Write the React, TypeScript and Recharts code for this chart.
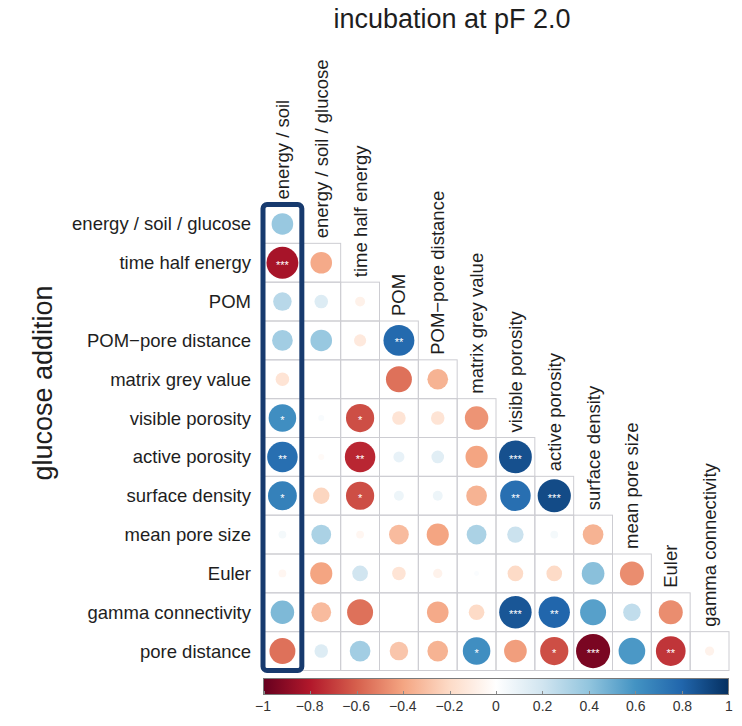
import React from 'react'
import { ScatterChart, Scatter, XAxis, YAxis } from 'recharts'

// variable names (rows go down the left, columns across the top)
const rowLabels = [
  'energy / soil / glucose',
  'time half energy',
  'POM',
  'POM\u2212pore distance',
  'matrix grey value',
  'visible porosity',
  'active porosity',
  'surface density',
  'mean pore size',
  'Euler',
  'gamma connectivity',
  'pore distance',
]

const colLabels = [
  'energy / soil',
  'energy / soil / glucose',
  'time half energy',
  'POM',
  'POM\u2212pore distance',
  'matrix grey value',
  'visible porosity',
  'active porosity',
  'surface density',
  'mean pore size',
  'Euler',
  'gamma connectivity',
]

// correlation values, one array per row (lower triangle incl. diagonal)
const rEnergySoilGlucose = [0.38]
const rTimeHalfEnergy = [-0.83, -0.38]
const rPOM = [0.28, 0.15, -0.08]
const rPOMPoreDistance = [0.35, 0.38, -0.12, 0.78]
const rMatrixGrey = [-0.15, 0, 0, -0.55, -0.35]
const rVisiblePorosity = [0.62, 0.03, -0.65, -0.15, -0.15, -0.45]
const rActivePorosity = [0.76, -0.03, -0.76, 0.1, 0.13, -0.4, 0.88]
const rSurfaceDensity = [0.68, -0.22, -0.65, 0.08, 0.08, -0.35, 0.76, 0.9]
const rMeanPoreSize = [0.05, 0.32, -0.05, -0.32, -0.4, 0.32, 0.22, 0.05, -0.35]
const rEuler = [-0.05, -0.4, 0.2, -0.15, -0.07, 0.02, -0.2, -0.2, 0.42, -0.47]
const rGammaConn = [0.45, -0.32, -0.55, 0, -0.38, -0.2, 0.86, 0.8, 0.55, 0.25, -0.47]
const rPoreDistance = [-0.55, 0.15, 0.35, -0.28, -0.35, 0.62, -0.42, -0.65, -0.95, 0.58, -0.72, -0.07]

// significance stars per row
const sEnergySoilGlucose = ['']
const sTimeHalfEnergy = ['***', '']
const sPOM = ['', '', '']
const sPOMPoreDistance = ['', '', '', '**']
const sMatrixGrey = ['', '', '', '', '']
const sVisiblePorosity = ['*', '', '*', '', '', '']
const sActivePorosity = ['**', '', '**', '', '', '', '***']
const sSurfaceDensity = ['*', '', '*', '', '', '', '**', '***']
const sMeanPoreSize = ['', '', '', '', '', '', '', '', '']
const sEuler = ['', '', '', '', '', '', '', '', '', '']
const sGammaConn = ['', '', '', '', '', '', '***', '**', '', '', '']
const sPoreDistance = ['', '', '', '', '', '*', '', '*', '***', '', '**', '']

const colorTicks = [-1, -0.8, -0.6, -0.4, -0.2, 0, 0.2, 0.4, 0.6, 0.8, 1]

// highlighted column (energy / soil)
const highlightCol = 0

// corrplot RdBu palette, -1 .. 1
const palette = ['#67001F', '#B2182B', '#D6604D', '#F4A582', '#FDDBC7', '#FFFFFF', '#D1E5F0', '#92C5DE', '#4393C3', '#2166AC', '#053061']

const rows = [
  rEnergySoilGlucose, rTimeHalfEnergy, rPOM, rPOMPoreDistance, rMatrixGrey, rVisiblePorosity,
  rActivePorosity, rSurfaceDensity, rMeanPoreSize, rEuler, rGammaConn, rPoreDistance,
]
const sigs = [
  sEnergySoilGlucose, sTimeHalfEnergy, sPOM, sPOMPoreDistance, sMatrixGrey, sVisiblePorosity,
  sActivePorosity, sSurfaceDensity, sMeanPoreSize, sEuler, sGammaConn, sPoreDistance,
]

const cells = rows.flatMap((vals, r) => vals.map((v, c) => ({ x: c, y: r, v, sig: sigs[r][c] })))
const colHeads = colLabels.map((name, j) => ({ x: j, y: j - 0.5, name }))
const boxPoint = [{ x: highlightCol, y: (rowLabels.length - 1) / 2 }]

const W = 742
const H = 726
const PLOT_LEFT = 263
const PLOT_TOP = 204.5
const PLOT_SIZE = 466
const N = 12
const CELL = PLOT_SIZE / N
const R_MAX = 17.5
const FONT = '"Liberation Sans", Arial, Helvetica, sans-serif'
const TEXT = '#1e1e1e'

const hex = (h: string) => [1, 3, 5].map((i) => parseInt(h.slice(i, i + 2), 16))

function corrColor(v: number) {
  const t = ((Math.max(-1, Math.min(1, v)) + 1) / 2) * (palette.length - 1)
  const i = Math.min(palette.length - 2, Math.floor(t))
  const f = t - i
  const a = hex(palette[i])
  const b = hex(palette[i + 1])
  const c = a.map((av, k) => Math.round(av + (b[k] - av) * f))
  return `rgb(${c[0]},${c[1]},${c[2]})`
}

const CellShape = (props: any) => {
  const { cx, cy, payload } = props
  const r = R_MAX * Math.sqrt(Math.abs(payload.v))
  return (
    <g>
      <rect x={cx - CELL / 2} y={cy - CELL / 2} width={CELL} height={CELL} fill="none" stroke="#cdcdd2" strokeWidth={1} />
      {r > 0.5 && <circle cx={cx} cy={cy} r={r} fill={corrColor(payload.v)} />}
      {payload.sig && (
        <text x={cx} y={cy} dy="0.55em" textAnchor="middle" fill="#ffffff" fontSize={11} fontFamily={FONT}>
          {payload.sig}
        </text>
      )}
    </g>
  )
}

const ColHeadShape = (props: any) => {
  const { cx, cy, payload } = props
  const y = cy - 5
  return (
    <text
      x={cx}
      y={y}
      dy="0.35em"
      textAnchor="start"
      transform={`rotate(-90 ${cx} ${y})`}
      fontSize={18.5}
      fontFamily={FONT}
      fill={TEXT}
    >
      {payload.name}
    </text>
  )
}

// navy frame around the highlighted column
const BoxShape = (props: any) => {
  const { cx, cy } = props
  const h = rowLabels.length * CELL
  return (
    <rect
      x={cx - CELL / 2}
      y={cy - h / 2}
      width={CELL}
      height={h}
      rx={4}
      ry={4}
      fill="none"
      stroke="#173a6e"
      strokeWidth={5}
    />
  )
}

const RowTick = (props: any) => {
  const { x, y, payload } = props
  return (
    <text x={x} y={y} dy="0.35em" textAnchor="end" fontSize={18.5} fontFamily={FONT} fill={TEXT}>
      {rowLabels[payload.value]}
    </text>
  )
}

export default function App() {
  return (
    <div style={{ position: 'absolute', left: 0, top: 0, width: W, height: H, background: '#fff', fontFamily: FONT }}>
      <div
        style={{ position: 'absolute', left: 452, top: 4, transform: 'translateX(-50%)', fontSize: 27, color: TEXT, whiteSpace: 'nowrap' }}
      >
        incubation at pF 2.0
      </div>
      <div
        style={{
          position: 'absolute',
          left: 43,
          top: 383,
          transform: 'translate(-50%, -50%) rotate(-90deg)',
          fontSize: 27,
          color: TEXT,
          whiteSpace: 'nowrap',
        }}
      >
        glucose addition
      </div>

      <ScatterChart
        width={W}
        height={H}
        margin={{ top: PLOT_TOP, right: W - PLOT_LEFT - PLOT_SIZE, bottom: H - PLOT_TOP - PLOT_SIZE, left: 0 }}
        style={{ position: 'absolute', left: 0, top: 0 }}
      >
        <XAxis type="number" dataKey="x" domain={[-0.5, N - 0.5]} hide />
        <YAxis
          type="number"
          dataKey="y"
          domain={[-0.5, N - 0.5]}
          reversed
          width={PLOT_LEFT}
          ticks={rowLabels.map((_, i) => i)}
          interval={0}
          axisLine={false}
          tickLine={false}
          tickSize={0}
          tickMargin={12}
          tick={<RowTick />}
        />
        <Scatter data={cells} shape={<CellShape />} isAnimationActive={false} />
        <Scatter data={colHeads} shape={<ColHeadShape />} isAnimationActive={false} />
        <Scatter data={boxPoint} shape={<BoxShape />} isAnimationActive={false} />
      </ScatterChart>

      {/* colour legend */}
      <div
        style={{
          position: 'absolute',
          left: PLOT_LEFT,
          top: 678,
          width: PLOT_SIZE,
          height: 17,
          boxSizing: 'border-box',
          border: '1px solid #7a7a7a',
          background: `linear-gradient(to right, ${palette.join(', ')})`,
        }}
      >
        {colorTicks.map((t) => (
          <div
            key={`m${t}`}
            style={{
              position: 'absolute',
              left: ((t + 1) / 2) * (PLOT_SIZE - 2),
              bottom: 0,
              width: 1,
              height: 3,
              background: '#8a8a8a',
            }}
          />
        ))}
      </div>
      {colorTicks.map((t) => (
        <div
          key={t}
          style={{
            position: 'absolute',
            left: PLOT_LEFT + ((t + 1) / 2) * PLOT_SIZE,
            top: 698,
            transform: 'translateX(-50%)',
            fontSize: 14,
            color: '#333',
            whiteSpace: 'nowrap',
          }}
        >
          {t === 0 ? '0' : String(t).replace('-', '\u2212')}
        </div>
      ))}
    </div>
  )
}
